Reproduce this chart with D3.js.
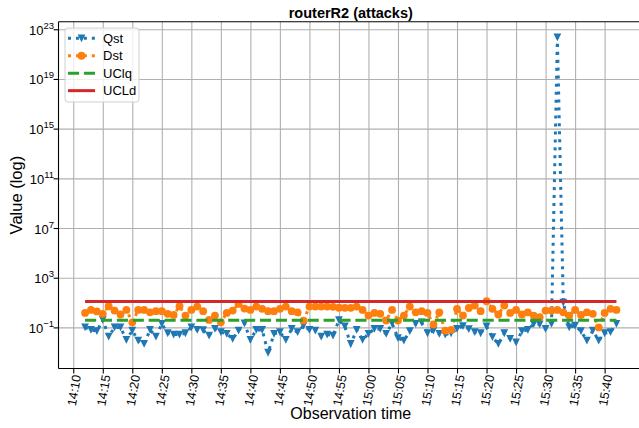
<!DOCTYPE html>
<html>
<head>
<meta charset="utf-8">
<script src="https://cdn.jsdelivr.net/npm/d3@7"></script>
<style>
    body { margin: 0; background: #fff; }
    svg { font-family: "Liberation Sans", Arial, sans-serif; }
</style>
</head>
<body>
<div id="chart"></div>
<script>
var titleText = 'routerR2 (attacks)';
var xLabel = 'Observation time',
    yLabel = 'Value (log)';
var legendNames = ['Qst', 'Dst', 'UClq', 'UCLd'];

// one observation per minute
var startTime = new Date(2020, 0, 1, 14, 11, 55);
var stepMinutes = 1;
var xTickMinutes = 5;
var yTickExponents = [-1, 3, 7, 11, 15, 19, 23];

var qst = [
    0.11, 0.069, 0.054, 0.44, 0.02, 0.11, 0.11, 0.011, 0.06, 0.0095,
    0.0051, 0.069, 0.02, 0.21, 0.037, 0.029, 0.029, 0.037, 0.11, 0.069,
    0.065, 0.024, 0.083, 0.045, 0.033, 0.013, 0.06, 0.23, 0.011, 0.069,
    0.069, 0.001, 0.033, 0.045, 0.011, 0.083, 0.045, 0.15, 0.069, 0.06,
    0.02, 0.029, 0.024, 0.42, 0.13, 0.0051, 0.069, 0.011, 0.033, 0.083,
    0.083, 0.033, 0.23, 0.015, 0.0095, 0.054, 0.21, 0.28, 0.037, 0.06,
    0.033, 0.029, 0.037, 0.083, 0.14, 0.08, 0.045, 0.037, 0.13, 0.018,
    0.0051, 0.037, 0.013, 0.0069, 0.054, 0.069, 0.21, 0.19, 0.083, 0.21,
    2.4e22, 11, 0.11, 0.15, 0.054, 0.0095, 0.06, 0.0095, 0.037, 0.045,
    0.21
];

var dst = [
    1.6, 2.8, 2.1, 1.35, 5.5, 2.5, 1.2, 2.8, 0.28, 2.8,
    2.8, 1.8, 2.2, 2.2, 1.35, 1.1, 5.5, 0.98, 2.8, 5.2,
    2.2, 0.44, 0.98, 0.28, 1.6, 2.5, 8.5, 3.6, 2.8, 5.2,
    3.4, 2.2, 2.2, 3.4, 5.2, 2.2, 1.8, 0.39, 5.2, 5.2,
    5.2, 5.2, 5.0, 4.2, 4.1, 4.1, 5.2, 2.8, 0.98, 1.6,
    1.35, 0.39, 2.8, 0.39, 0.98, 5.2, 1.8, 2.2, 1.6, 0.19,
    1.8, 0.06, 0.07, 3.4, 0.98, 4.0, 6.3, 2.2, 14, 3.4,
    1.2, 6.3, 1.6, 2.8, 1.2, 1.8, 0.98, 0.72, 2.5, 2.5,
    2.8, 1.8, 0.98, 2.8, 1.1, 1.8, 1.35, 0.11, 1.6, 3.4,
    2.8
];

// control limits (constant)
var uclq = 0.41,
    ucld = 13.2;

var _colors = {
    Qst: '#1f77b4',  // blue
    Dst: '#ff7f0e',  // orange
    UClq: '#2ca02c', // green
    UCLd: '#d62728'  // red
};

var _width = 639, _height = 428;
var _plot = { left: 58.5, right: 643, top: 21.7, bottom: 368.5 };
var _lw = 3;

function triangleDown(s){
    return 'M' + (-s) + ',' + (-s) + 'L' + s + ',' + (-s) + 'L0,' + s + 'Z';
}

function draw(){
    var svg = d3.select('#chart').append('svg')
        .attr('width', _width)
        .attr('height', _height);

    var times = qst.map(function(d, i){ return new Date(+startTime + i * stepMinutes * 60000); });
    var tFirst = times[0], tLast = times[times.length - 1];

    // 5% margins like matplotlib
    var pad = (tLast - tFirst) * 0.05;
    var x = d3.scaleTime()
        .domain([new Date(+tFirst - pad), new Date(+tLast + pad)])
        .range([_plot.left, _plot.right]);

    var all = qst.concat(dst, [uclq, ucld]);
    var lmin = Math.log10(d3.min(all)), lmax = Math.log10(d3.max(all));
    var lpad = (lmax - lmin) * 0.05;
    var y = d3.scaleLog()
        .domain([Math.pow(10, lmin - lpad), Math.pow(10, lmax + lpad)])
        .range([_plot.bottom, _plot.top]);

    var xTicks = d3.timeMinute.every(xTickMinutes).range(x.domain()[0], tLast);
    var yTicks = yTickExponents.map(function(e){ return Math.pow(10, e); });

    // grid
    var grid = svg.append('g').attr('stroke', '#b0b0b0').attr('stroke-width', 1.1);
    grid.selectAll('line.gx').data(xTicks).enter().append('line')
        .attr('x1', function(d){ return x(d); }).attr('x2', function(d){ return x(d); })
        .attr('y1', _plot.top).attr('y2', _plot.bottom);
    grid.selectAll('line.gy').data(yTicks).enter().append('line')
        .attr('x1', _plot.left).attr('x2', _plot.right)
        .attr('y1', function(d){ return y(d); }).attr('y2', function(d){ return y(d); });

    var line = d3.line()
        .x(function(d){ return x(d.t); })
        .y(function(d){ return y(d.v); });

    var qData = qst.map(function(v, i){ return { t: times[i], v: v }; });
    var dData = dst.map(function(v, i){ return { t: times[i], v: v }; });

    // Qst
    svg.append('path').datum(qData)
        .attr('d', line)
        .attr('fill', 'none')
        .attr('stroke', _colors.Qst)
        .attr('stroke-width', _lw)
        .attr('stroke-dasharray', '3,4.95');
    svg.selectAll('path.q').data(qData).enter().append('path')
        .attr('class', 'q')
        .attr('d', triangleDown(3.9))
        .attr('transform', function(d){ return 'translate(' + x(d.t) + ',' + y(d.v) + ')'; })
        .attr('fill', _colors.Qst);

    // Dst
    svg.append('path').datum(dData)
        .attr('d', line)
        .attr('fill', 'none')
        .attr('stroke', _colors.Dst)
        .attr('stroke-width', _lw)
        .attr('stroke-dasharray', '3,4.95');
    svg.selectAll('circle.d').data(dData).enter().append('circle')
        .attr('class', 'd')
        .attr('cx', function(d){ return x(d.t); })
        .attr('cy', function(d){ return y(d.v); })
        .attr('r', 3.9)
        .attr('fill', _colors.Dst);

    // control limits
    svg.append('path').datum([{ t: tFirst, v: uclq }, { t: tLast, v: uclq }])
        .attr('d', line)
        .attr('stroke', _colors.UClq)
        .attr('stroke-width', _lw)
        .attr('stroke-dasharray', '11.1,4.8');
    svg.append('path').datum([{ t: tFirst, v: ucld }, { t: tLast, v: ucld }])
        .attr('d', line)
        .attr('stroke', _colors.UCLd)
        .attr('stroke-width', _lw);

    // spines
    var axes = svg.append('g').attr('stroke', '#000').attr('stroke-width', 1.1);
    axes.append('line').attr('x1', _plot.left).attr('x2', _plot.left).attr('y1', _plot.top).attr('y2', _plot.bottom);
    axes.append('line').attr('x1', _plot.left).attr('x2', _plot.right).attr('y1', _plot.bottom).attr('y2', _plot.bottom);
    axes.append('line').attr('x1', _plot.left).attr('x2', _plot.right).attr('y1', _plot.top).attr('y2', _plot.top);

    // ticks
    axes.selectAll('line.tx').data(xTicks).enter().append('line')
        .attr('x1', function(d){ return x(d); }).attr('x2', function(d){ return x(d); })
        .attr('y1', _plot.bottom).attr('y2', _plot.bottom + 4.9);
    axes.selectAll('line.ty').data(yTicks).enter().append('line')
        .attr('x1', _plot.left - 4.9).attr('x2', _plot.left)
        .attr('y1', function(d){ return y(d); }).attr('y2', function(d){ return y(d); });

    var fmt = d3.timeFormat('%H:%M');
    svg.selectAll('text.xt').data(xTicks).enter().append('text')
        .attr('transform', function(d){ return 'translate(' + (x(d) + 3) + ',' + (_plot.bottom + 6.5) + ') rotate(-80)'; })
        .attr('text-anchor', 'end')
        .attr('dy', '0.35em')
        .attr('font-size', 12.5)
        .attr('fill', '#000')
        .text(function(d){ return fmt(d); });

    var yt = svg.selectAll('text.yt').data(yTickExponents).enter().append('text')
        .attr('x', _plot.left - 4.5)
        .attr('y', function(d){ return y(Math.pow(10, d)) + 5; })
        .attr('text-anchor', 'end')
        .attr('font-size', 13)
        .attr('fill', '#000');
    yt.append('tspan').text('10');
    yt.append('tspan')
        .attr('dy', -6)
        .attr('font-size', 9.5)
        .text(function(d){ return String(d).replace('-', '\u2212'); });

    // labels
    svg.append('text')
        .attr('x', (_plot.left + _plot.right) / 2).attr('y', 18)
        .attr('text-anchor', 'middle')
        .attr('font-size', 14.5)
        .attr('font-weight', 'bold')
        .text(titleText);
    svg.append('text')
        .attr('x', (_plot.left + _plot.right) / 2).attr('y', 419)
        .attr('text-anchor', 'middle')
        .attr('font-size', 16)
        .text(xLabel);
    svg.append('text')
        .attr('transform', 'translate(22,' + ((_plot.top + _plot.bottom) / 2) + ') rotate(-90)')
        .attr('text-anchor', 'middle')
        .attr('font-size', 16.5)
        .text(yLabel);

    // legend
    var lg = svg.append('g');
    lg.append('rect')
        .attr('x', 65).attr('y', 28).attr('width', 74).attr('height', 74).attr('rx', 3)
        .attr('fill', '#fff').attr('fill-opacity', 0.8)
        .attr('stroke', '#d0d0d0');
    var rows = lg.selectAll('g.row').data(legendNames).enter().append('g')
        .attr('transform', function(d, i){ return 'translate(68,' + (38.3 + i * 17.45) + ')'; });
    rows.append('line')
        .attr('x1', 0).attr('x2', 27)
        .attr('stroke', function(d){ return _colors[d]; })
        .attr('stroke-width', _lw)
        .attr('stroke-dasharray', function(d){
            return d === 'UClq' ? '11.1,4.8' : (d === 'UCLd' ? null : '3,4.95');
        });
    rows.filter(function(d){ return d === 'Qst'; }).append('path')
        .attr('d', triangleDown(3.9)).attr('transform', 'translate(13.5,0)').attr('fill', _colors.Qst);
    rows.filter(function(d){ return d === 'Dst'; }).append('circle')
        .attr('cx', 13.5).attr('r', 3.9).attr('fill', _colors.Dst);
    rows.append('text')
        .attr('x', 35).attr('dy', '0.36em')
        .attr('font-size', 13)
        .text(function(d){ return d; });
}

draw();
</script>
</body>
</html>
